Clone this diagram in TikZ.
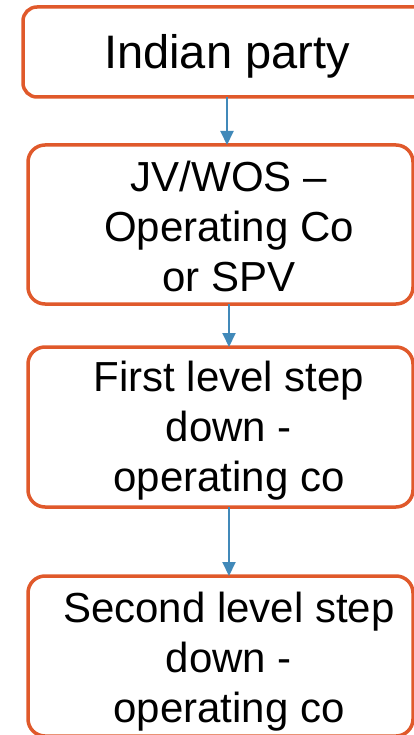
\documentclass[tikz,border=0pt]{standalone}
\usepackage{fontspec}
\setmainfont{Liberation Sans}
\definecolor{edge}{HTML}{E0592B}
\definecolor{flow}{HTML}{4189B9}
\usetikzlibrary{arrows.meta,positioning}
\tikzset{
  >={Triangle[length=14pt,width=13pt]},
  box/.style={draw=edge,rounded corners=17pt,line width=3.5pt,fill=white,inner sep=0pt,outer sep=0pt,minimum width=385pt,minimum height=160pt},
  lab/.style={align=center,inner sep=0pt,font=\fontsize{42}{50}\selectfont},
  arr/.style={->,draw=flow,line width=2pt},
}
\begin{document}
\begin{tikzpicture}[x=1pt,y=-1pt]
\clip (0,0) rectangle (414,735);
% boxes
\node[box,minimum width=408pt,minimum height=90pt,rounded corners=14pt] (party) at (227,52) {};
\node[box,minimum height=159pt] (jv) at (220.5,224.5) {};
\node[box] (first) at (220.5,427) {};
\node[box] (second) at (220.5,656) {};
% texts
\node[lab,font=\fontsize{47}{56}\selectfont,anchor=base] (partyt) at (227,69) {Indian party};
\node[lab] (jvt) at (229,226) {JV/WOS –\\Operating Co\\or SPV};
\node[lab] (firstt) at (229,431) {First level step\\down -\\operating co};
\node[lab] (secondt) at (229,661.5) {Second level step\\down -\\operating co};
% links
\draw[arr] (partyt |- party.south) -- (partyt |- jv.north);
\draw[arr] (jvt |- jv.south) -- (jvt |- first.north);
\draw[arr] (firstt |- first.south) -- (firstt |- second.north);
\end{tikzpicture}
\end{document}
